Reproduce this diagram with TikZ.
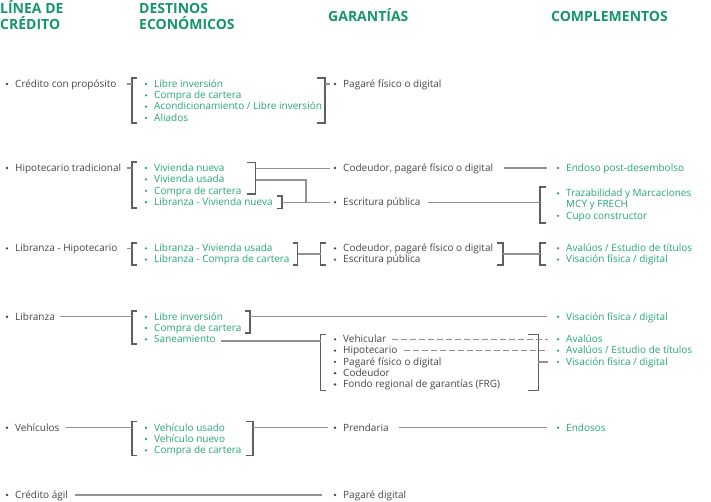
\documentclass[tikz,border=0pt]{standalone}
\usepackage{fontspec}
\setmainfont{Open Sans}
\definecolor{hdr}{RGB}{20,150,108}
\definecolor{grn}{RGB}{38,166,120}
\definecolor{txt}{RGB}{70,70,70}
\definecolor{cl}{RGB}{145,145,145}
\definecolor{bk}{RGB}{95,95,95}
\tikzset{
  hd/.style={anchor=base west, inner sep=0pt, text=hdr, font=\fontsize{14}{16}\selectfont\bfseries},
  tx/.style={anchor=base west, inner sep=0pt, font=\fontsize{10}{11}\selectfont},
  conn/.style={draw=cl, line width=1.5pt},
  dconn/.style={conn, dash pattern=on 5.5pt off 3.5pt},
  brk/.style={draw=bk, line width=1.25pt},
}
\newcommand\itm[5]{%
  \fill[#4] (#2-8,#3) circle (1.3pt);
  \node[tx,text=#4] (#1) at (#2,#3+3.3) {#5};}
\newcommand\brak[5]{%
  \draw[brk] (#5,#3) -- (#2,#3) -- (#2,#4) -- (#5,#4);
  \coordinate (#1) at (#2,{(#3+#4)/2});}
\begin{document}
\begin{tikzpicture}[x=1pt,y=-1pt]
\useasboundingbox (0,0) rectangle (711,501);
% headers
\node[hd] (h1a) at (0,13) {LÍNEA DE};
\node[hd] (h1b) at (0,29) {CRÉDITO};
\node[hd] (h2a) at (139,13) {DESTINOS};
\node[hd] (h2b) at (139,29) {ECONÓMICOS};
\node[hd] (h3) at (328,21) {GARANTÍAS};
\node[hd] (h4) at (551,21) {COMPLEMENTOS};
% ---- row 1
\itm{a1}{15}{84}{txt}{Crédito con propósito}
\coordinate (a1e) at (127,84);
\brak{lb1}{132}{78}{123}{137}
\draw[conn] (a1e) -- (a1e -| lb1);
\itm{b11}{154}{84}{grn}{Libre inversión}
\itm{b12}{154}{95.3}{grn}{Compra de cartera}
\itm{b13}{154}{106.6}{grn}{Acondicionamiento / Libre inversión}
\itm{b14}{154}{117.9}{grn}{Aliados}
\brak{rb1}{325}{78}{123}{317}
\coordinate (c1s) at (330,84);
\draw[conn] (c1s -| rb1) -- (c1s);
\itm{c1}{343}{84}{txt}{Pagaré físico o digital}
% ---- row 2
\itm{a2}{15}{168}{txt}{Hipotecario tradicional}
\coordinate (a2e) at (127,168);
\brak{lb2}{132}{162}{208}{137}
\draw[conn] (a2e) -- (a2e -| lb2);
\itm{b21}{154}{168}{grn}{Vivienda nueva}
\itm{b22}{154}{179.4}{grn}{Vivienda usada}
\itm{b23}{154}{190.8}{grn}{Compra de cartera}
\itm{b24}{154}{202.2}{grn}{Libranza - Vivienda nueva}
\brak{rb2}{255.5}{162.5}{194}{247}
\brak{rb2b}{282}{196}{208.5}{277}
\itm{c21}{343}{168}{txt}{Codeudor, pagaré físico o digital}
\itm{c22}{343}{202.2}{txt}{Escritura pública}
\coordinate (c21s) at (330,168.5);
\draw[conn] (c21s -| rb2) -- (c21s);
\coordinate (c22s) at (330,202.5);
\coordinate (j2) at (306,180);
\draw[conn] (j2 -| rb2) -- (j2) -- (j2 |- c22s);
\draw[conn] (c22s -| rb2b) -- (c22s);
\coordinate (c21e) at (504,168);
\coordinate (d21s) at (547,168);
\draw[conn] (c21e) -- (d21s);
\itm{d21}{566}{168}{grn}{Endoso post-desembolso}
\coordinate (c22e) at (428,202.5);
\brak{ld2}{540}{187}{223}{546}
\draw[conn] (c22e) -- (c22e -| ld2);
\itm{d22}{566}{193.3}{grn}{Trazabilidad y Marcaciones}
\node[tx,text=grn] (d22b) at (566,204.6+3.3) {MCY y FRECH};
\itm{d23}{566}{215.9}{grn}{Cupo constructor}
% ---- row 3
\itm{a3}{15}{248.3}{txt}{Libranza - Hipotecario}
\coordinate (a3e) at (127,248.3);
\brak{lb3}{132}{243}{265}{137}
\draw[conn] (a3e) -- (a3e -| lb3);
\itm{b31}{154}{248.3}{grn}{Libranza - Vivienda usada}
\itm{b32}{154}{259.6}{grn}{Libranza - Compra de cartera}
\brak{rb3}{297.5}{243}{265}{293}
\brak{lc3}{320.5}{243}{265}{326}
\draw[conn] (rb3) -- (lc3);
\itm{c31}{343}{248.3}{txt}{Codeudor, pagaré físico o digital}
\itm{c32}{343}{259.6}{txt}{Escritura pública}
\brak{rc3}{503}{243}{265}{497}
\brak{ld3}{540}{243}{265}{546}
\draw[conn] (rc3) -- (ld3);
\itm{d31}{566}{248.3}{grn}{Avalúos / Estudio de títulos}
\itm{d32}{566}{259.6}{grn}{Visación física / digital}
% ---- row 4
\itm{a4}{15}{316.7}{txt}{Libranza}
\coordinate (a4e) at (60,316.7);
\brak{lb4}{132}{311}{344}{137}
\draw[conn] (a4e) -- (a4e -| lb4);
\itm{b41}{154}{316.7}{grn}{Libre inversión}
\itm{b42}{154}{328}{grn}{Compra de cartera}
\itm{b43}{154}{339.3}{grn}{Saneamiento}
\brak{rb4}{250}{311}{333}{245}
\coordinate (d41s) at (547,316.7);
\draw[conn] (d41s -| rb4) -- (d41s);
\itm{d41}{566}{316.7}{grn}{Visación física / digital}
\coordinate (b43e) at (221,341);
\brak{lc4}{320.5}{334.5}{390.3}{326}
\draw[conn] (b43e) -- (b43e -| lc4);
\itm{c41}{343}{339.3}{txt}{Vehicular}
\itm{c42}{343}{350.6}{txt}{Hipotecario}
\itm{c43}{343}{361.9}{txt}{Pagaré físico o digital}
\itm{c44}{343}{373.2}{txt}{Codeudor}
\itm{c45}{343}{384.5}{txt}{Fondo regional de garantías (FRG)}
\brak{rc4}{538.3}{334.5}{390.3}{527.5}
\coordinate (v1s) at (392,339.3);
\coordinate (v1e) at (548,339.3);
\draw[dconn] (v1s) -- (v1e);
\coordinate (v2s) at (404,350.6);
\coordinate (v2e) at (548,350.6);
\draw[dconn] (v2s) -- (v2e);
\coordinate (v3e) at (548,361.9);
\draw[conn] (v3e -| rc4) -- (v3e);
\itm{d42}{566}{339.3}{grn}{Avalúos}
\itm{d43}{566}{350.6}{grn}{Avalúos / Estudio de títulos}
\itm{d44}{566}{361.9}{grn}{Visación física / digital}
% ---- row 5
\itm{a5}{15}{427.7}{txt}{Vehículos}
\coordinate (a5e) at (65.7,427.7);
\brak{lb5}{132}{421.7}{455.7}{137}
\draw[conn] (a5e) -- (a5e -| lb5);
\itm{b51}{154}{427.7}{grn}{Vehículo usado}
\itm{b52}{154}{439}{grn}{Vehículo nuevo}
\itm{b53}{154}{450.3}{grn}{Compra de cartera}
\brak{rb5}{253}{421.7}{455.7}{245.7}
\coordinate (c5s) at (328,427.7);
\draw[conn] (c5s -| rb5) -- (c5s);
\itm{c5}{343}{427.7}{txt}{Prendaria}
\coordinate (c5e) at (399,427.7);
\coordinate (d5s) at (547,427.7);
\draw[conn] (c5e) -- (d5s);
\itm{d5}{566}{427.7}{grn}{Endosos}
% ---- row 6
\itm{a6}{15}{495}{txt}{Crédito ágil}
\coordinate (a6e) at (75,495);
\coordinate (c6s) at (322,495);
\draw[conn] (a6e) -- (c6s);
\itm{c6}{343}{495}{txt}{Pagaré digital}
\end{tikzpicture}
\end{document}
